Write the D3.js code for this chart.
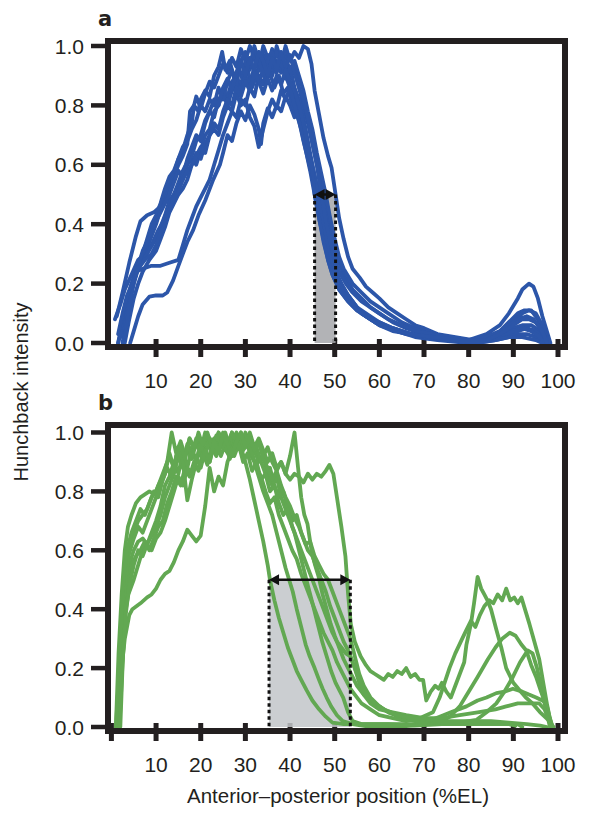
<!DOCTYPE html>
<html>
<head>
<meta charset="utf-8">
<script src="https://cdn.jsdelivr.net/npm/d3@7/dist/d3.min.js"></script>
<style>
    body { margin: 0; background: #ffffff; }
    text { font-family: "Liberation Sans", Arial, sans-serif; fill: #231f20; }
</style>
</head>
<body>
<svg id="chart" width="600" height="813"></svg>
<script>
// ---- data: Hunchback intensity vs AP position (%EL) ----
// panel a, blue traces
let a_trace1 = [[1.2,0.09],[2.5,0.17],[4,0.27],[5.5,0.36],[6.5,0.41],[8,0.43],[9.5,0.44],[11,0.46],[12,0.49],[13,0.53],[14,0.56],[15,0.6],[16,0.63],[17,0.67],[17.6,0.78],[18.5,0.8],[19,0.83],[20,0.79],[21,0.84],[22,0.88],[23,0.86],[24,0.9],[25,0.94],[26,0.91],[27,0.96],[28,0.93],[29,0.99],[30,0.95],[31,1.0],[32,0.96],[33,0.92],[34,0.97],[35,0.94],[36,0.99],[37,0.93],[38,0.96],[39,0.9],[40,0.86],[41,0.83],[42,0.78],[43,0.71],[44,0.64],[45,0.57],[46,0.5],[47,0.43],[48,0.36],[49,0.3],[50,0.25],[51,0.21],[53,0.16],[55,0.12],[57,0.1],[60,0.07],[63,0.05],[67,0.03],[71,0.02],[76,0.01],[81,0.01],[85,0.02],[88,0.03],[90,0.05],[92,0.06],[94,0.06],[96,0.04],[97.5,0.01]];
let a_trace2 = [[1.5,0.0],[2.5,0.08],[3.5,0.15],[4.5,0.2],[5.5,0.24],[7,0.25],[9,0.26],[11,0.26],[13,0.27],[15,0.28],[16,0.33],[17,0.38],[18,0.42],[19,0.46],[20,0.49],[21,0.52],[22,0.55],[23,0.6],[24,0.65],[25,0.7],[26,0.74],[27,0.78],[28,0.76],[29,0.82],[30,0.8],[31,0.86],[32,0.83],[33,0.9],[34,0.87],[35,0.93],[36,0.9],[37,0.95],[38,0.91],[39,0.94],[40,0.89],[41,0.92],[42,0.86],[43,0.8],[44,0.74],[45,0.67],[46,0.6],[47,0.53],[47.7,0.5],[48.5,0.42],[49.5,0.35],[50.5,0.29],[52,0.23],[54,0.18],[56,0.15],[58,0.12],[60,0.1],[63,0.07],[66,0.05],[70,0.03],[75,0.02],[80,0.01],[84,0.02],[87,0.04],[89,0.07],[91,0.1],[92.5,0.11],[94,0.11],[95.5,0.08],[97,0.03],[98,0.0]];
let a_trace3 = [[4.2,0.0],[5,0.04],[6,0.09],[7,0.13],[8.5,0.156],[10,0.16],[11.5,0.16],[12.5,0.17],[13.8,0.21],[15,0.26],[16,0.3],[17,0.34],[18.3,0.38],[19.5,0.43],[21,0.48],[22.8,0.55],[24.3,0.6],[25,0.64],[26,0.7],[27,0.68],[28,0.74],[29,0.78],[30,0.75],[31,0.8],[32,0.77],[33,0.72],[33.5,0.67],[34,0.74],[35,0.79],[36,0.76],[37,0.8],[38,0.78],[39,0.83],[40,0.8],[41,0.76],[42,0.79],[43,0.72],[44,0.66],[45,0.6],[46,0.53],[46.7,0.5],[47.5,0.43],[48.5,0.35],[49.5,0.28],[50.5,0.23],[52,0.18],[54,0.14],[56,0.1],[58,0.08],[60,0.06],[64,0.04],[68,0.02],[73,0.01],[80,0.0],[85,0.01],[88,0.02],[91,0.03],[93,0.03],[95,0.02],[97,0.0]];
let a_trace4 = [[1.5,0.0],[3,0.08],[4,0.15],[5,0.2],[6,0.25],[7,0.29],[8,0.32],[9,0.36],[10,0.4],[11,0.45],[12,0.5],[13,0.55],[14,0.57],[15,0.62],[16,0.65],[17,0.7],[18,0.74],[18.5,0.8],[19.5,0.78],[20,0.82],[21,0.85],[22,0.83],[23,0.9],[24,0.93],[24.8,0.98],[25.5,0.92],[26.5,0.95],[27.5,0.89],[28.5,0.93],[29.5,0.88],[30.5,0.92],[31.5,0.86],[32.5,0.9],[33.5,0.94],[34.5,0.88],[35.5,0.91],[36.5,0.86],[37.5,0.9],[38.5,0.84],[39.5,0.86],[40.5,0.8],[41.5,0.77],[42.5,0.72],[43.5,0.65],[44.5,0.58],[45.5,0.5],[46.5,0.42],[47.5,0.35],[48.5,0.28],[49.5,0.23],[51,0.18],[53,0.14],[55,0.11],[58,0.08],[61,0.06],[65,0.04],[70,0.02],[75,0.01],[82,0.0],[86,0.01],[89,0.02],[91,0.04],[93,0.05],[95,0.04],[96.5,0.02],[97.5,0.0]];
let a_trace5 = [[0.8,0.08],[2,0.13],[3,0.18],[4.5,0.23],[6,0.28],[7.5,0.3],[9,0.33],[10.5,0.38],[12,0.42],[13,0.47],[14,0.5],[15,0.53],[16,0.55],[17,0.6],[18,0.62],[19,0.6],[20,0.65],[21,0.7],[22,0.72],[23,0.78],[24,0.8],[25,0.85],[26,0.83],[27,0.88],[28,0.9],[29,0.86],[30,0.95],[31,0.92],[32,0.98],[33,0.93],[34,1.0],[35,0.96],[36,0.92],[37,1.0],[38,0.95],[39,0.97],[40,0.91],[41,0.95],[42,0.9],[43,0.85],[44,0.78],[45,0.72],[46,0.64],[47,0.57],[48,0.5],[49,0.42],[50,0.35],[51,0.29],[52,0.25],[54,0.2],[56,0.17],[58,0.14],[60,0.12],[62,0.1],[65,0.07],[68,0.05],[72,0.03],[76,0.02],[80,0.01],[84,0.03],[87,0.06],[89,0.1],[91,0.15],[92,0.18],[93.5,0.2],[94.5,0.19],[95.5,0.15],[96.5,0.09],[97.5,0.04],[98.3,0.0]];
let a_trace6 = [[2,0.02],[3,0.1],[4,0.17],[5,0.22],[6.5,0.27],[8,0.3],[9.5,0.34],[11,0.39],[12,0.43],[13,0.48],[14,0.5],[15,0.54],[16,0.58],[17,0.61],[18,0.63],[19,0.68],[20,0.7],[21,0.75],[22,0.78],[23,0.76],[24,0.82],[25,0.84],[26,0.8],[27,0.85],[28,0.88],[29,0.84],[30,0.9],[31,0.87],[32,0.93],[33,0.88],[34,0.92],[35,0.97],[36,0.93],[37,0.98],[38,0.94],[39,1.0],[40,0.95],[41,0.98],[42,0.96],[43,1.0],[44,0.99],[44.8,0.94],[45.5,0.85],[46.5,0.77],[47.5,0.69],[48.5,0.63],[49.3,0.59],[50.2,0.5],[51,0.42],[52,0.35],[53,0.29],[54,0.25],[55.6,0.22],[57,0.19],[58.5,0.17],[60,0.15],[62,0.12],[64,0.1],[66,0.08],[68,0.06],[70,0.05],[73,0.03],[77,0.02],[81,0.01],[85,0.02],[88,0.04],[90,0.07],[92,0.1],[93.5,0.11],[95,0.1],[96.5,0.06],[97.5,0.02],[98,0.0]];
let a_trace7 = [[3,0.0],[4,0.08],[5,0.15],[6,0.2],[7,0.24],[8.5,0.28],[10,0.31],[11,0.35],[12,0.39],[13,0.44],[14,0.47],[15,0.5],[16,0.52],[17,0.55],[18,0.6],[19,0.64],[20,0.62],[21,0.67],[22,0.7],[23,0.72],[24,0.7],[25,0.76],[26,0.8],[27,0.78],[28,0.84],[29,0.8],[30,0.82],[31,0.76],[32,0.73],[33,0.66],[34,0.72],[35,0.78],[36,0.82],[37,0.79],[38,0.85],[39,0.82],[40,0.86],[41,0.8],[42,0.75],[43,0.68],[44,0.62],[45,0.56],[46,0.5],[47,0.44],[48,0.37],[49,0.3],[50,0.25],[51.5,0.2],[53,0.16],[55,0.12],[57,0.09],[60,0.07],[63,0.05],[67,0.03],[72,0.02],[78,0.01],[84,0.01],[87,0.02],[90,0.04],[92,0.05],[94,0.04],[96,0.02],[97,0.0]];
let a_trace8 = [[2.5,0.0],[3.5,0.1],[4.5,0.18],[5.5,0.25],[7,0.3],[8,0.35],[9,0.4],[10,0.43],[11,0.47],[12,0.52],[13,0.56],[14,0.58],[15,0.62],[16,0.66],[17,0.68],[18,0.72],[19,0.75],[20,0.8],[21,0.78],[22,0.82],[23,0.8],[24,0.86],[25,0.82],[26,0.88],[27,0.92],[28,0.87],[29,0.95],[30,0.98],[31,0.93],[32,1.0],[33,0.95],[34,0.9],[35,0.95],[36,0.98],[37,0.91],[38,0.95],[39,0.89],[40,0.93],[41,0.86],[42,0.82],[43,0.76],[44,0.68],[45,0.6],[46,0.53],[46.3,0.5],[47.2,0.42],[48.2,0.34],[49.2,0.27],[50.5,0.21],[52,0.17],[54,0.13],[56,0.1],[59,0.07],[62,0.05],[66,0.03],[70,0.02],[76,0.01],[82,0.0],[86,0.01],[89,0.02],[92,0.02],[95,0.01],[96.5,0.0]];
let a_trace9 = [[3,0.02],[4,0.12],[5,0.2],[6,0.26],[7,0.31],[8,0.34],[9,0.38],[10,0.41],[11,0.44],[12,0.47],[13,0.5],[14,0.54],[15,0.58],[16,0.56],[17,0.62],[18,0.66],[19,0.7],[20,0.68],[21,0.74],[22,0.78],[23,0.82],[24,0.8],[25,0.86],[26,0.89],[27,0.85],[28,0.91],[29,0.95],[30,0.9],[31,0.96],[32,0.92],[33,0.98],[34,0.95],[35,0.9],[36,0.96],[37,0.92],[38,0.98],[39,0.93],[40,0.97],[41,0.91],[42,0.86],[43,0.82],[44,0.76],[45,0.68],[46,0.6],[47,0.5],[48,0.41],[49,0.34],[50,0.28],[51,0.24],[52.5,0.2],[54,0.17],[56,0.14],[58,0.12],[60,0.1],[62,0.08],[65,0.06],[68,0.04],[72,0.03],[76,0.02],[80,0.01],[84,0.02],[87,0.04],[89,0.06],[91,0.08],[93,0.09],[94.5,0.08],[96,0.05],[97.5,0.01]];
let a_trace10 = [[1.5,0.03],[2.5,0.1],[3.5,0.16],[5,0.21],[6,0.25],[7.5,0.28],[9,0.3],[10,0.33],[11,0.37],[12,0.4],[13,0.45],[14,0.49],[15,0.51],[16,0.55],[17,0.58],[18,0.6],[19,0.63],[20,0.66],[21,0.64],[22,0.7],[23,0.74],[24,0.72],[25,0.78],[26,0.82],[27,0.8],[28,0.86],[29,0.83],[30,0.88],[31,0.85],[32,0.91],[33,0.88],[34,0.84],[35,0.89],[36,0.85],[37,0.9],[38,0.87],[39,0.92],[40,0.88],[41,0.85],[42,0.8],[43,0.74],[44,0.66],[45,0.58],[45.5,0.5],[46.5,0.42],[47.5,0.34],[48.5,0.28],[49.5,0.23],[51,0.18],[53,0.14],[55,0.11],[57,0.09],[60,0.06],[63,0.04],[67,0.03],[72,0.02],[78,0.01],[84,0.01],[87,0.03],[90,0.06],[92,0.08],[93.5,0.08],[95,0.07],[96.5,0.04],[97.5,0.0]];

// panel b, green traces
let b_trace1 = [[1,0.0],[1.8,0.2],[2.5,0.4],[3.2,0.52],[4,0.6],[5,0.66],[6,0.7],[7,0.72],[8,0.74],[9,0.78],[10,0.8],[11,0.84],[12,0.88],[13,0.92],[14,0.88],[15,0.95],[16,0.9],[17,0.96],[18,0.93],[19,0.98],[20,0.94],[21,1.0],[22,0.95],[23,0.98],[24,0.94],[25,0.99],[26,0.96],[27,1.0],[28,0.97],[29,0.95],[30,0.9],[31,0.84],[32,0.77],[33,0.7],[34,0.63],[35,0.55],[35.5,0.5],[36.5,0.43],[37.5,0.37],[38.5,0.32],[39.5,0.27],[40.5,0.23],[41.5,0.19],[42.5,0.16],[43.7,0.125],[45,0.09],[46.5,0.06],[48,0.035],[49.5,0.015],[52,0.01],[56,0.01],[62,0.01],[68,0.01],[72,0.015],[74,0.02],[75.8,0.035],[78,0.07],[80.2,0.125],[82,0.17],[84.3,0.23],[86,0.27],[87.5,0.3],[89.2,0.32],[90.5,0.31],[91.8,0.28],[92.9,0.26],[94,0.21],[95.1,0.17],[96.2,0.12],[97.4,0.07],[98.5,0.01]];
let b_trace2 = [[1.5,0.0],[2.2,0.2],[3,0.38],[3.8,0.45],[5,0.5],[6,0.55],[7,0.6],[8,0.62],[9,0.66],[10,0.7],[11,0.75],[12,0.82],[13,0.85],[14,0.9],[15,0.86],[16,0.93],[17,0.88],[18,0.95],[19,0.9],[20,0.97],[21,0.93],[22,0.98],[23,0.95],[24,1.0],[25,0.96],[26,0.93],[27,0.97],[28,1.0],[29,0.96],[30,0.98],[31,0.93],[32,0.9],[33,0.85],[34,0.8],[35,0.76],[36,0.72],[37,0.66],[38,0.6],[39,0.54],[40,0.49],[40.6,0.46],[41.5,0.4],[42.5,0.34],[43.5,0.28],[44.4,0.24],[45.5,0.2],[46.5,0.16],[47.3,0.13],[48.2,0.1],[49.2,0.07],[50.5,0.04],[51.8,0.02],[54,0.01],[58,0.0],[64,0.0],[70,0.01],[76,0.01],[82,0.015],[86,0.015],[89,0.01],[90.5,0.005]];
let b_trace3 = [[2,0.0],[2.6,0.25],[3.3,0.45],[4,0.55],[5,0.6],[6,0.63],[7,0.64],[8,0.62],[9,0.65],[10,0.68],[11,0.72],[12,0.78],[13,0.82],[14,0.86],[15,0.92],[16,0.88],[17,0.95],[18,0.91],[19,0.97],[20,0.92],[21,0.95],[22,0.9],[23,0.96],[24,0.93],[25,0.98],[26,0.95],[27,1.0],[28,0.96],[29,0.99],[30,0.95],[31,0.98],[32,0.94],[33,0.9],[34,0.92],[35,0.86],[36,0.82],[37,0.85],[38,0.78],[39,0.74],[40,0.7],[41,0.66],[42,0.6],[43,0.54],[44,0.48],[45.2,0.41],[46.2,0.35],[47.2,0.29],[48.2,0.24],[49.2,0.19],[50.2,0.15],[51.9,0.1],[53,0.05],[54,0.02],[56,0.01],[62,0.01],[68,0.005],[74,0.01],[78,0.015],[80,0.02],[81.7,0.024],[84,0.05],[86.2,0.08],[88,0.12],[89.9,0.17],[91.5,0.22],[93.2,0.26],[94.3,0.25],[95.3,0.2],[96.3,0.13],[97.3,0.06],[98.2,0.0]];
let b_trace4 = [[1.2,0.0],[2,0.22],[2.8,0.4],[3.6,0.5],[4.5,0.55],[5.5,0.58],[6.5,0.6],[7.5,0.63],[8.5,0.6],[9.5,0.64],[10.5,0.68],[11.5,0.7],[12.5,0.76],[13.5,0.8],[14.5,0.85],[15.5,0.82],[16.5,0.88],[17.5,0.85],[18.5,0.9],[19.5,0.87],[20.5,0.93],[21.5,0.89],[22.5,0.95],[23.5,0.92],[24.5,0.97],[25.5,0.94],[26.5,0.98],[27.5,0.93],[28.5,0.97],[29.5,0.94],[30.5,0.97],[31.5,0.92],[32.5,0.95],[33.5,0.9],[34.5,0.86],[35.5,0.88],[36.5,0.82],[37.5,0.78],[38.5,0.8],[39.5,0.74],[40.5,0.7],[41.5,0.72],[42.5,0.66],[43.5,0.62],[44.5,0.63],[45.5,0.58],[46.5,0.55],[47.5,0.52],[48.5,0.5],[49.5,0.46],[50.5,0.42],[51.5,0.38],[52.5,0.34],[53.5,0.3],[54.5,0.24],[55.5,0.18],[56.5,0.14],[58,0.1],[60,0.07],[62,0.05],[65,0.03],[68,0.02],[71,0.02],[73.5,0.035],[76,0.05],[79.5,0.07],[82,0.09],[84,0.1],[86.2,0.115],[88,0.12],[89.9,0.13],[92,0.12],[93.5,0.11],[95.1,0.1],[96.5,0.09],[97.4,0.08],[98,0.04],[98.6,0.0]];
let b_trace5 = [[1.5,0.0],[2.3,0.2],[3,0.3],[4,0.38],[4.7,0.4],[6.5,0.42],[8,0.44],[9,0.45],[10,0.47],[11,0.5],[12,0.52],[13,0.53],[14,0.56],[15,0.6],[16,0.63],[17,0.67],[18,0.65],[19,0.63],[20,0.65],[21,0.75],[22,0.88],[23,0.8],[24,0.85],[25,0.82],[26,0.9],[27,0.94],[28,0.98],[29,0.95],[30,1.0],[31,0.96],[32,0.93],[33,0.97],[34,0.92],[35,0.95],[36,0.9],[37,0.87],[38,0.9],[39,0.86],[40,0.84],[41,0.86],[42,0.85],[43,0.83],[44,0.86],[45,0.84],[46,0.86],[47,0.85],[48,0.87],[48.8,0.89],[49.7,0.86],[50.5,0.78],[51.5,0.68],[52.4,0.58],[53,0.45],[53.6,0.35],[54.5,0.29],[55.8,0.24],[57,0.21],[58,0.19],[59,0.18],[60,0.17],[61,0.16],[62,0.18],[63,0.17],[64,0.19],[65,0.18],[66,0.2],[67,0.17],[68,0.18],[69,0.16],[69.8,0.16],[70.5,0.09],[71.5,0.12],[72.5,0.14],[73.3,0.13],[74,0.15],[75,0.12],[76,0.1],[77,0.14],[78,0.18],[79,0.22],[79.5,0.28],[80.5,0.35],[81.2,0.42],[82,0.51],[82.8,0.47],[83.5,0.45],[84.2,0.43],[85,0.4],[86.2,0.33],[87.3,0.27],[88.4,0.2],[90,0.15],[91.4,0.125],[92.8,0.1],[94.3,0.08],[96,0.05],[98.1,0.02],[99,0.0]];
let b_trace6 = [[1,0.0],[1.6,0.25],[2.3,0.45],[3,0.6],[3.7,0.68],[4.5,0.72],[5.5,0.76],[6.5,0.78],[7.5,0.79],[8.5,0.8],[9.7,0.79],[10.5,0.82],[11.5,0.85],[12.5,0.9],[13.5,1.0],[14.5,0.93],[15.5,0.97],[16.5,0.92],[17.5,0.98],[18.5,0.94],[19.5,1.0],[20.5,0.95],[21.5,0.98],[22.5,0.93],[23.5,0.97],[24.5,0.92],[25.5,0.96],[26.5,0.91],[27.5,0.95],[28.5,0.99],[29.5,0.94],[30.5,0.97],[31.5,0.93],[32.5,0.88],[33.5,0.85],[34.5,0.8],[35.5,0.76],[36.5,0.78],[37.5,0.72],[38.5,0.68],[39.5,0.64],[40.5,0.6],[41.5,0.57],[42.5,0.52],[43.5,0.48],[44.5,0.44],[45.5,0.4],[46.5,0.36],[47.5,0.32],[48.5,0.29],[49.5,0.26],[50.5,0.22],[51.5,0.19],[52.5,0.16],[53.5,0.13],[54.5,0.11],[56,0.08],[58,0.06],[60,0.04],[63,0.03],[66,0.02],[69,0.03],[72,0.05],[73.5,0.1],[75.7,0.2],[77,0.25],[78.4,0.295],[79.5,0.33],[80.5,0.36],[81.5,0.34],[82.5,0.38],[83.5,0.41],[84.6,0.43],[85.5,0.42],[86.5,0.45],[87.5,0.43],[88.4,0.47],[89.3,0.43],[90.2,0.44],[91,0.42],[91.8,0.44],[92.8,0.39],[93.6,0.35],[94.7,0.29],[95.8,0.23],[96.7,0.15],[97.5,0.08],[98.1,0.035],[98.8,0.0]];
let b_trace7 = [[1.5,0.0],[2.2,0.28],[3,0.48],[3.8,0.58],[5,0.64],[6,0.68],[7,0.66],[8,0.7],[9,0.74],[10,0.78],[11,0.82],[12,0.86],[13,0.93],[14,0.88],[15,0.95],[16,0.9],[17,0.77],[18,0.84],[19,0.9],[20,0.96],[21,0.92],[22,0.98],[23,0.94],[24,1.0],[25,0.95],[26,0.98],[27,0.92],[28,0.97],[29,1.0],[30,0.96],[31,1.0],[32,0.95],[33,0.98],[34,0.94],[35,0.9],[36,0.93],[37,0.88],[38,0.9],[39,0.86],[40,0.92],[41,1.0],[41.8,0.88],[42.5,0.78],[43.2,0.72],[43.9,0.69],[44.8,0.6],[45.6,0.55],[46.4,0.51],[47.3,0.45],[48.2,0.4],[49.1,0.35],[50,0.31],[51,0.27],[52,0.23],[53,0.2],[54,0.17],[55,0.14],[56.5,0.11],[58,0.09],[60,0.07],[62,0.05],[65,0.04],[68,0.03],[72,0.02],[76,0.01],[80,0.01],[84,0.01],[88,0.01],[91,0.01],[92,0.0]];
let b_trace8 = [[1.2,0.0],[2,0.3],[2.7,0.5],[3.5,0.6],[4.5,0.66],[5.5,0.7],[6.5,0.74],[7.5,0.72],[8.5,0.76],[9.5,0.8],[10.5,0.78],[11.5,0.84],[12.5,0.88],[13.5,0.85],[14.5,0.92],[15.5,0.96],[16.5,0.91],[17.5,0.98],[18.5,0.95],[19.5,0.99],[20.5,0.96],[21.5,1.0],[22.5,0.95],[23.5,0.99],[24.5,0.96],[25.5,1.0],[26.5,0.95],[27.5,0.92],[28.5,0.96],[29.5,0.9],[30.5,0.93],[31.5,0.87],[32.5,0.9],[33.5,0.84],[34.5,0.86],[35.5,0.8],[36.5,0.82],[37.5,0.76],[38.5,0.72],[39.5,0.74],[40.5,0.68],[41.5,0.64],[42.5,0.6],[43.5,0.56],[44.5,0.52],[45.5,0.48],[46.5,0.44],[47.5,0.4],[48.5,0.36],[49.5,0.32],[50.5,0.29],[51.5,0.27],[52.5,0.25],[53.5,0.24],[54.5,0.2],[55.5,0.15],[56.5,0.11],[58,0.08],[60,0.06],[63,0.05],[66,0.04],[70,0.03],[74,0.03],[78,0.04],[82,0.05],[86,0.06],[88.4,0.07],[91,0.08],[93,0.08],[95.8,0.08],[97,0.06],[98,0.02],[98.5,0.0]];
let b_trace9 = [[1.8,0.0],[2.5,0.22],[3.2,0.38],[4,0.48],[5,0.55],[6,0.6],[7,0.58],[8,0.62],[9,0.6],[10,0.64],[11,0.66],[12,0.7],[13,0.75],[14,0.8],[15,0.85],[16,0.82],[17,0.88],[18,0.86],[19,0.92],[20,0.88],[21,0.94],[22,0.9],[23,0.97],[24,0.93],[25,1.0],[26,0.96],[27,0.92],[28,0.97],[29,1.0],[30,0.95],[31,0.98],[32,0.94],[33,0.97],[34,0.91],[35,0.88],[36,0.84],[37,0.87],[38,0.82],[39,0.78],[40,0.75],[41,0.71],[42,0.68],[43,0.64],[44,0.6],[45,0.58],[46,0.54],[47,0.5],[48,0.46],[49,0.41],[50,0.37],[51,0.33],[52,0.29],[53,0.26],[54,0.22],[55,0.18],[56,0.14],[57,0.11],[59,0.08],[61,0.06],[64,0.04],[67,0.03],[70,0.03],[73,0.02],[77,0.02],[81,0.02],[85,0.02],[89,0.015],[93,0.01],[96,0.005],[97.5,0.0]];

let a_traces = [a_trace1, a_trace2, a_trace3, a_trace4, a_trace5, a_trace6, a_trace7, a_trace8, a_trace9, a_trace10];
let b_traces = [b_trace1, b_trace2, b_trace3, b_trace4, b_trace5, b_trace6, b_trace7, b_trace8, b_trace9];

// half-maximum boundary spread (%EL) shown by the arrows
let a_band = [45.5, 50.2];
let b_band = [35.3, 53.5];
let half_level = 0.5;

let a_xticks = [10, 20, 30, 40, 50, 60, 70, 80, 90, 100];
let b_xticks = [0, 10, 20, 30, 40, 50, 60, 70, 80, 90, 100];
let y_ticks = [0, 0.2, 0.4, 0.6, 0.8, 1.0];

let svg = d3.select("#chart");

function drawPanel(p) {
    let x = d3.scaleLinear().domain([0, 100]).range([111.4, 558]);
    let y = d3.scaleLinear().domain([0, 1]).range([p.y0, p.y1]);
    let g = svg.append("g");
    let ink = "#231f20";

    // y ticks + labels
    g.selectAll(".yt").data(y_ticks).enter().append("line")
        .attr("x1", 91).attr("x2", 108)
        .attr("y1", d => y(d)).attr("y2", d => y(d))
        .attr("stroke", ink).attr("stroke-width", 4.5);
    g.selectAll(".yl").data(y_ticks).enter().append("text")
        .attr("x", 84).attr("y", d => y(d)).attr("dy", "0.36em")
        .attr("text-anchor", "end").attr("font-size", 21)
        .text(d => d.toFixed(1));

    // x ticks + labels
    g.selectAll(".xt").data(p.xticks).enter().append("line")
        .attr("x1", d => x(d)).attr("x2", d => x(d))
        .attr("y1", y(0) - 4).attr("y2", y(0) + 14)
        .attr("stroke", ink).attr("stroke-width", 5);
    g.selectAll(".xl").data(p.xticks.filter(d => d > 0)).enter().append("text")
        .attr("x", d => x(d)).attr("y", y(0) + 45)
        .attr("text-anchor", "middle").attr("font-size", 21)
        .text(d => d);

    // shaded boundary zone
    g.append("rect")
        .attr("x", x(p.band[0])).attr("y", y(half_level))
        .attr("width", x(p.band[1]) - x(p.band[0]))
        .attr("height", y(0) - y(half_level))
        .attr("fill", p.shade).attr("opacity", 0.85);

    // traces
    let line = d3.line().x(d => x(d[0])).y(d => y(d[1]));
    g.selectAll(".trace").data(p.traces).enter().append("path")
        .attr("d", line)
        .attr("fill", "none")
        .attr("stroke", p.color)
        .attr("stroke-width", 3.8)
        .attr("stroke-linejoin", "round")
        .attr("stroke-linecap", "round");

    // dotted verticals
    g.selectAll(".dv").data(p.band).enter().append("line")
        .attr("x1", d => x(d)).attr("x2", d => x(d))
        .attr("y1", y(half_level)).attr("y2", y(0))
        .attr("stroke", "#111").attr("stroke-width", 3)
        .attr("stroke-dasharray", "3.5,3");

    // double arrow
    let ax0 = x(p.band[0]), ax1 = x(p.band[1]), ay = y(half_level);
    g.append("line")
        .attr("x1", ax0 + 4).attr("x2", ax1 - 4)
        .attr("y1", ay).attr("y2", ay)
        .attr("stroke", "#111").attr("stroke-width", 2.5);
    g.append("path")
        .attr("d", `M${ax0},${ay} l10,-5.5 l0,11 Z M${ax1},${ay} l-10,-5.5 l0,11 Z`)
        .attr("fill", "#111");

    // frame
    g.append("rect")
        .attr("x", 108).attr("y", p.top)
        .attr("width", 565 - 108).attr("height", y(0) + 4 - p.top)
        .attr("fill", "none").attr("stroke", ink).attr("stroke-width", 6);

    // panel letter
    g.append("text")
        .attr("x", 98).attr("y", p.top - 15)
        .attr("font-size", 21).attr("font-weight", "bold")
        .style("font-family", "'DejaVu Sans', sans-serif")
        .text(p.letter);
}

drawPanel({letter: "a", traces: a_traces, color: "#2c56a9", shade: "#a4a6a9",
    band: a_band, xticks: a_xticks, y0: 343, y1: 46, top: 41});
drawPanel({letter: "b", traces: b_traces, color: "#62a852", shade: "#c2c5c9",
    band: b_band, xticks: b_xticks, y0: 727, y1: 432.5, top: 425});

svg.append("text")
    .attr("transform", "translate(28,392) rotate(-90)")
    .attr("text-anchor", "middle").attr("font-size", 20)
    .text("Hunchback intensity");

svg.append("text")
    .attr("x", 338).attr("y", 803)
    .attr("text-anchor", "middle").attr("font-size", 20.5)
    .text("Anterior\u2013posterior position (%EL)");
</script>
</body>
</html>
